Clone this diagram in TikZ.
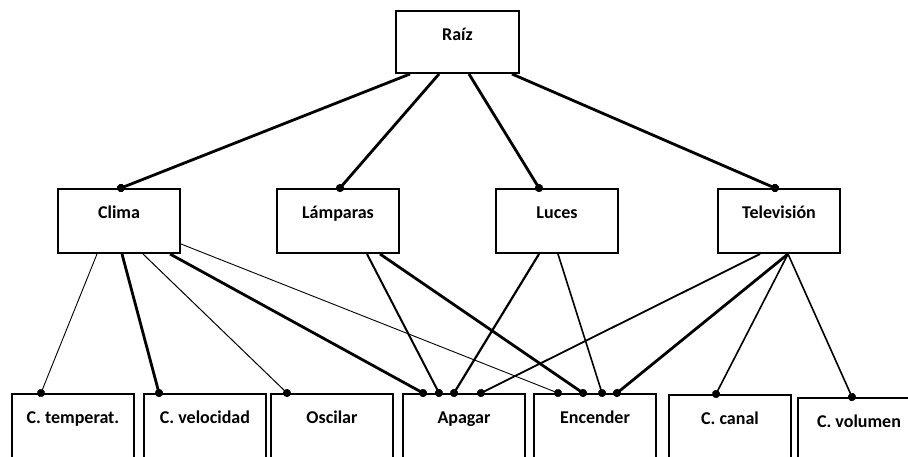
\documentclass[tikz,border=0pt]{standalone}
\usepackage{fontspec}
\setmainfont{Carlito}
\usetikzlibrary{arrows.meta}

\begin{document}
\begin{tikzpicture}[x=1pt, y=-1pt,
    caja/.style={draw, line width=2pt, anchor=north west, inner sep=0pt,
      minimum width=122pt, text height=29pt, text depth=35pt,
      font=\fontsize{18}{20}\selectfont\bfseries},
    hoja/.style={caja, text depth=90pt},
    rama/.style={line width=#1, -{Circle[length=8pt]}, shorten >=-4pt},
    rama/.default=2.8pt]
    \useasboundingbox (0,0) rectangle (908,456);
    \clip (0,0) rectangle (908,456);

    \node[caja, minimum width=123pt, text depth=33pt] (raiz) at (395,10) {Raíz};

    \node[caja] (clima) at (57,188) {Clima};
    \node[caja] (lamparas) at (276,188) {Lámparas};
    \node[caja] (luces) at (495,188) {Luces};
    \node[caja] (tele) at (717,188) {Televisión};

    \node[hoja] (ctemp) at (11,393) {C. temperat.};
    \node[hoja] (cvel) at (143,393) {C. velocidad};
    \node[hoja] (oscilar) at (270,393) {Oscilar};
    \node[hoja] (apagar) at (402,393) {Apagar};
    \node[hoja] (encender) at (533,393) {Encender};
    \node[hoja] (ccanal) at (668,394) {C. canal};
    \node[hoja] (cvol) at (797,397) {C. volumen};

    \draw[rama] ([xshift=15pt]raiz.south west) -- ([xshift=64pt]clima.north west);
    \draw[rama] ([xshift=44pt]raiz.south west) -- ([xshift=64pt]lamparas.north west);
    \draw[rama] ([xshift=74pt]raiz.south west) -- ([xshift=44pt]luces.north west);
    \draw[rama] ([xshift=117pt]raiz.south west) -- ([xshift=58pt]tele.north west);

    \draw[rama=0.9pt] ([xshift=40pt]clima.south west) -- ([xshift=30pt]ctemp.north west);
    \draw[rama] ([xshift=65pt]clima.south west) -- ([xshift=16pt]cvel.north west);
    \draw[rama=1pt] ([xshift=86pt]clima.south west) -- ([xshift=17pt]oscilar.north west);
    \draw[rama] ([xshift=113pt]clima.south west) -- ([xshift=21pt]apagar.north west);
    \draw[rama=0.9pt] ([yshift=10pt]clima.south east) -- ([xshift=25pt]encender.north west);

    \draw[rama=2pt] ([xshift=91pt]lamparas.south west) -- ([xshift=37pt]apagar.north west);
    \draw[rama] ([xshift=104pt]lamparas.south west) -- ([xshift=50pt]encender.north west);

    \draw[rama=2.2pt] ([xshift=44pt]luces.south west) -- ([xshift=52pt]apagar.north west);
    \draw[rama=1.6pt] ([xshift=63pt]luces.south west) -- ([xshift=69pt]encender.north west);

    \draw[rama=1.8pt] ([xshift=43pt]tele.south west) -- ([xshift=79pt]apagar.north west);
    \draw[rama] ([xshift=71pt]tele.south west) -- ([xshift=84pt]encender.north west);
    \draw[rama=1.6pt] ([xshift=71pt]tele.south west) -- ([xshift=48pt]ccanal.north west);
    \draw[rama=1.6pt] ([xshift=71pt]tele.south west) -- ([xshift=55pt]cvol.north west);
\end{tikzpicture}
\end{document}
